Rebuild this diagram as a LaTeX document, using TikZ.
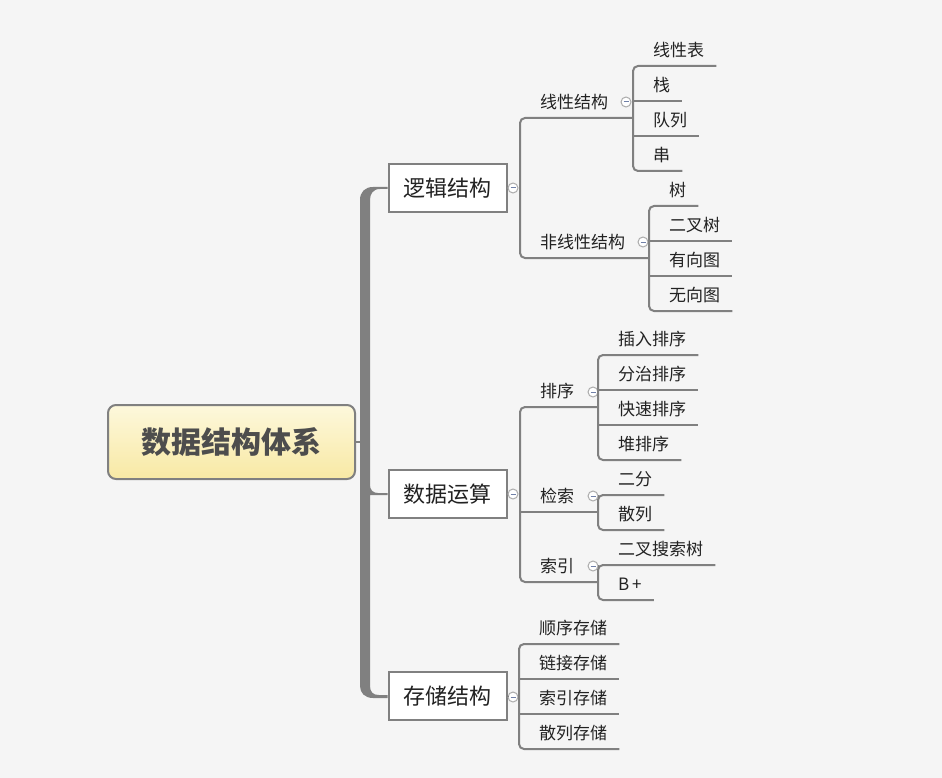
\documentclass[tikz,border=0pt]{standalone}
\usepackage{fontspec}
\setmainfont{Noto Sans CJK SC}
\usepackage{tikz}
\usetikzlibrary{calc, positioning}
\definecolor{bgc}{HTML}{F5F5F5}
\definecolor{linec}{HTML}{808080}
\definecolor{txtc}{HTML}{222222}
\definecolor{rootc}{HTML}{4D4D4D}
\definecolor{minusc}{HTML}{7080A8}
\definecolor{roottop}{HTML}{FDF8DC}
\definecolor{rootbottom}{HTML}{F8E9A4}
\tikzset{
	rootbox/.style={
			rectangle,
			rounded corners=8pt,
			draw=linec,
			line width=2pt,
			top color=roottop,
			bottom color=rootbottom,
			minimum width=247pt,
			minimum height=74pt,
			text=rootc,
			font=\fontsize{30}{34}\selectfont\bfseries
		},
	topicbox/.style={
			rectangle,
			draw=linec,
			line width=2pt,
			fill=white,
			minimum width=118pt,
			minimum height=48pt,
			inner sep=0pt,
			text=txtc,
			font=\fontsize{22}{26}\selectfont
		},
	leaf/.style={
			inner sep=0pt,
			anchor=south west,
			text depth=9pt,
			text=txtc,
			font=\fontsize{17}{20}\selectfont
		},
	marker/.style={
			circle,
			draw=linec!65,
			fill=white,
			line width=1pt,
			minimum size=10pt,
			inner sep=0pt,
			path picture={\draw[minusc, line width=1pt]
					([xshift=-2.5pt]path picture bounding box.center) --
					([xshift=2.5pt]path picture bounding box.center);}
		},
	branch/.style={
			draw=linec,
			line width=2pt
		},
	trunk/.style={
			fill=linec
		}
}
\begin{document}
\begin{tikzpicture}[x=1pt, y=-1pt]
\fill[bgc] (0,0) rectangle (942,778);
\useasboundingbox (0,0) rectangle (942,778);

% root and main topics
\node[rootbox] (root) at (231.5,442) {数据结构体系};
\node[topicbox] (logic) at (447.5,188) {逻辑结构};
\node[topicbox] (ops) at (447.5,494) {数据运算};
\node[topicbox] (store) at (447.5,696) {存储结构};

\node[marker] (mlogic) at (513,188) {};
\node[marker] (mops) at (513,494) {};
\node[marker] (mstore) at (513,697) {};

% trunk from root to main topics
\draw[branch] (root.east) -- (362,442);
\fill[trunk] (logic.west |- 0,187) -- (373,187) .. controls (365,187) and (360,192) .. (360,200)
  -- (360,686) .. controls (360,693) and (365,698) .. (373,698) -- (store.west |- 0,698)
  -- (store.west |- 0,695) -- (379,695) .. controls (373,695) and (370,692) .. (370,686)
  -- (370,495) -- (ops.west |- 0,495) -- (ops.west |- 0,493) -- (378,493)
  .. controls (373,493) and (370,490) .. (370,485)
  -- (370,200) .. controls (370,194) and (373,189) .. (380,189) -- (logic.west |- 0,189) -- cycle;

% subtopics
\node[leaf] (lin) at (540,118) {线性结构};
\node[leaf] (nonlin) at (540,258) {非线性结构};
\node[leaf] (sort) at (540,407) {排序};
\node[leaf] (search) at (540,512) {检索};
\node[leaf] (index) at (540,582) {索引};

\node[marker] (mlin) at (626,102) {};
\node[marker] (mnonlin) at (643,242) {};
\node[marker] (msort) at (593,392) {};
\node[marker] (msearch) at (593,496) {};
\node[marker] (mindex) at (593,566) {};

% leaves
\node[leaf] (lt1) at (653,66) {线性表};
\node[leaf] (lt2) at (653,101) {栈};
\node[leaf] (lt3) at (653,136) {队列};
\node[leaf] (lt4) at (653,171) {串};

\node[leaf] (nt1) at (669,206) {树};
\node[leaf] (nt2) at (669,241) {二叉树};
\node[leaf] (nt3) at (669,276) {有向图};
\node[leaf] (nt4) at (669,311) {无向图};

\node[leaf] (st1) at (618,355) {插入排序};
\node[leaf] (st2) at (618,390) {分治排序};
\node[leaf] (st3) at (618,425) {快速排序};
\node[leaf] (st4) at (618,460) {堆排序};

\node[leaf] (se1) at (618,495) {二分};
\node[leaf] (se2) at (618,530) {散列};

\node[leaf] (ix1) at (618,565) {二叉搜索树};
\node[leaf] (ix2) at (618,600) {B\,+};

\node[leaf] (sg1) at (539,644) {顺序存储};
\node[leaf] (sg2) at (539,679) {链接存储};
\node[leaf] (sg3) at (539,714) {索引存储};
\node[leaf] (sg4) at (539,749) {散列存储};

% main topic -> subtopics
\draw[branch] (logic.east) -- (mlogic.west);
\draw[branch] (mlogic.east) -- ($(lin.south west |- mlogic)+(-20,0)$);
\draw[branch, rounded corners=5pt] ($(lt1.south west |- lin.south)+(-20,0)$) -- ($(lin.south west)+(-20,0)$)
  -- ($(nonlin.south west)+(-20,0)$) -- ($(nt1.south west |- nonlin.south)+(-20,0)$);

\draw[branch] (ops.east) -- (mops.west);
\draw[branch] (mops.east) -- ($(sort.south west |- mops)+(-20,0)$);
\draw[branch, rounded corners=5pt] ($(st1.south west |- sort.south)+(-20,0)$) -- ($(sort.south west)+(-20,0)$)
  -- ($(index.south west)+(-20,0)$) -- ($(ix1.south west |- index.south)+(-20,0)$);
\draw[branch] ($(search.south west)+(-20,0)$) -- ($(se1.south west |- search.south)+(-20,0)$);

\draw[branch] (store.east) -- (mstore.west);
\draw[branch] (mstore.east) -- ($(sg1.south west |- mstore)+(-20,0)$);
\draw[branch, rounded corners=5pt] ($(sg1.south east)+(12,0)$) -- ($(sg1.south west)+(-20,0)$)
  -- ($(sg4.south west)+(-20,0)$) -- ($(sg4.south east)+(12,0)$);
\draw[branch] ($(sg2.south west)+(-20,0)$) -- ($(sg2.south east)+(12,0)$);
\draw[branch] ($(sg3.south west)+(-20,0)$) -- ($(sg3.south east)+(12,0)$);

% subtopic markers
\draw[branch] (mlin.east) -- ($(lt1.south west |- mlin)+(-20,0)$);
\draw[branch] (mnonlin.east) -- ($(nt1.south west |- mnonlin)+(-20,0)$);
\draw[branch] (msort.east) -- ($(st1.south west |- msort)+(-20,0)$);
\draw[branch] (msearch.east) -- ($(se1.south west |- msearch)+(-20,0)$);
\draw[branch] (mindex.east) -- ($(ix1.south west |- mindex)+(-20,0)$);

% subtopics -> leaves
\draw[branch, rounded corners=5pt] ($(lt1.south east)+(12,0)$) -- ($(lt1.south west)+(-20,0)$)
  -- ($(lt4.south west)+(-20,0)$) -- ($(lt4.south east)+(12,0)$);
\draw[branch] ($(lt2.south west)+(-20,0)$) -- ($(lt2.south east)+(12,0)$);
\draw[branch] ($(lt3.south west)+(-20,0)$) -- ($(lt3.south east)+(12,0)$);

\draw[branch, rounded corners=5pt] ($(nt1.south east)+(12,0)$) -- ($(nt1.south west)+(-20,0)$)
  -- ($(nt4.south west)+(-20,0)$) -- ($(nt4.south east)+(12,0)$);
\draw[branch] ($(nt2.south west)+(-20,0)$) -- ($(nt2.south east)+(12,0)$);
\draw[branch] ($(nt3.south west)+(-20,0)$) -- ($(nt3.south east)+(12,0)$);

\draw[branch, rounded corners=5pt] ($(st1.south east)+(12,0)$) -- ($(st1.south west)+(-20,0)$)
  -- ($(st4.south west)+(-20,0)$) -- ($(st4.south east)+(12,0)$);
\draw[branch] ($(st2.south west)+(-20,0)$) -- ($(st2.south east)+(12,0)$);
\draw[branch] ($(st3.south west)+(-20,0)$) -- ($(st3.south east)+(12,0)$);

\draw[branch, rounded corners=5pt] ($(se1.south east)+(12,0)$) -- ($(se1.south west)+(-20,0)$)
  -- ($(se2.south west)+(-20,0)$) -- ($(se2.south east)+(12,0)$);

\draw[branch, rounded corners=5pt] ($(ix1.south east)+(12,0)$) -- ($(ix1.south west)+(-20,0)$)
  -- ($(ix2.south west)+(-20,0)$) -- ($(ix2.south east)+(12,0)$);
\end{tikzpicture}
\end{document}
